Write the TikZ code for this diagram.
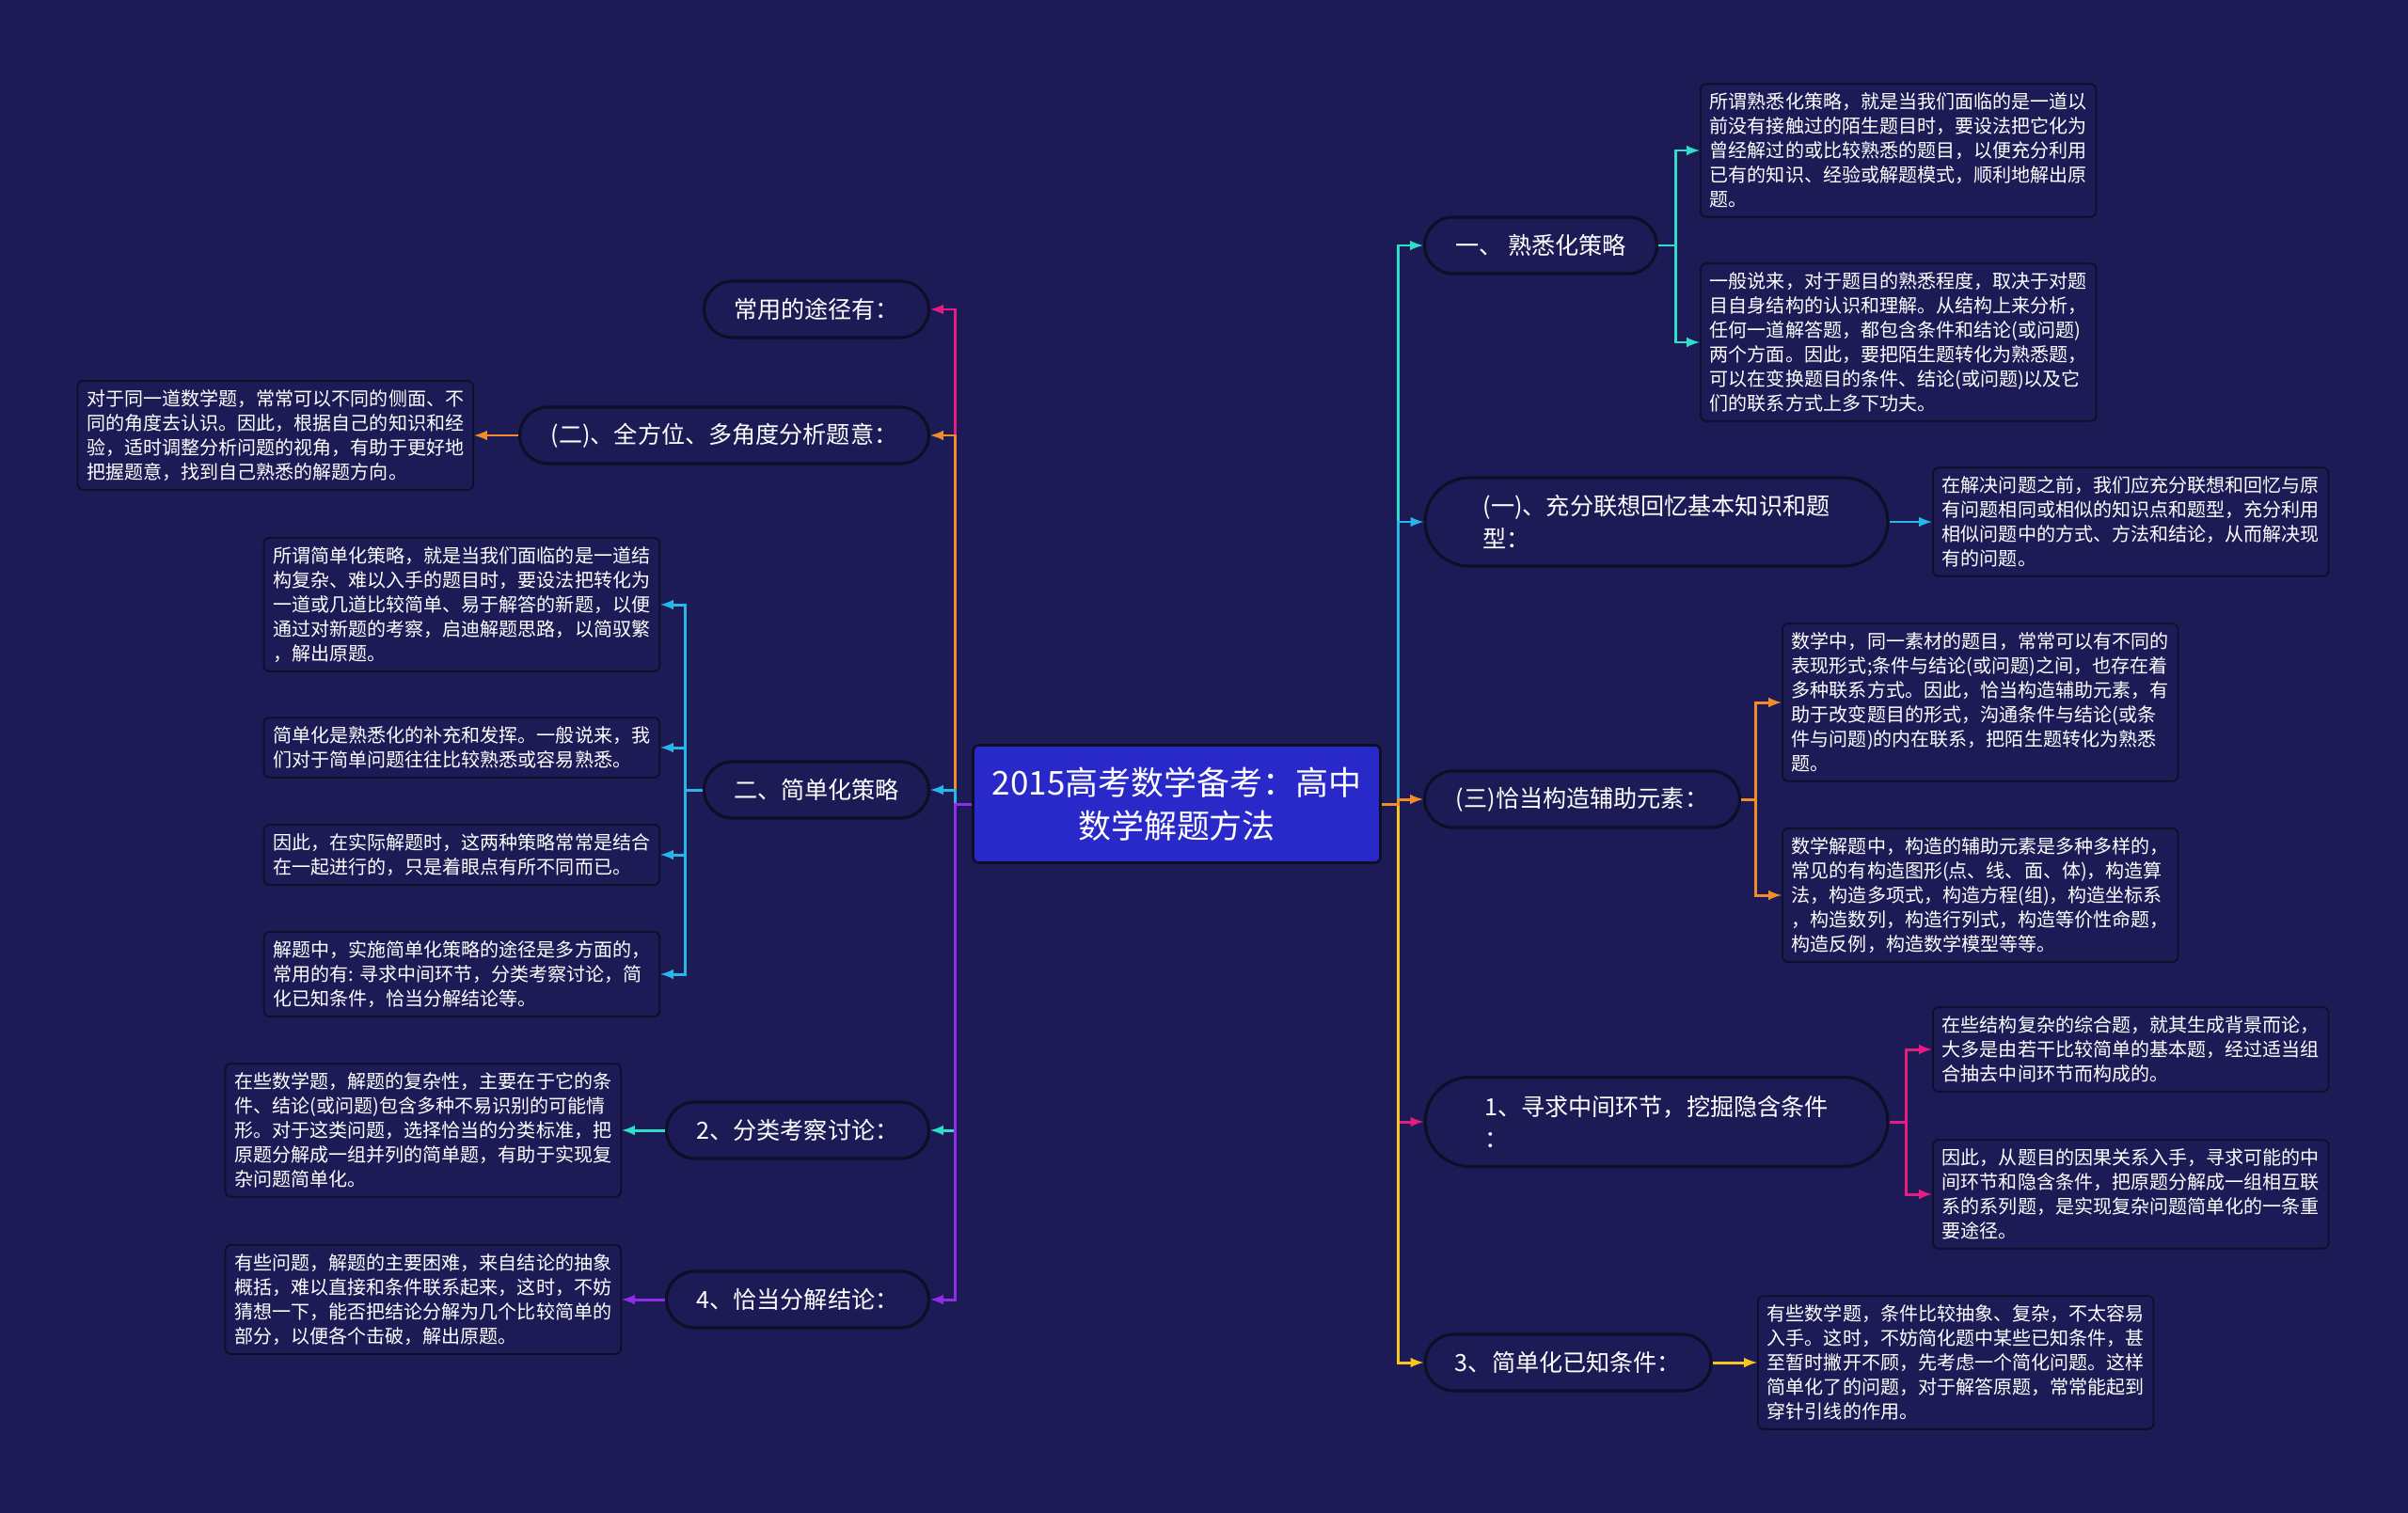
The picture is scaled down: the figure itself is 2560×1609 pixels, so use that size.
\documentclass[tikz,border=0pt]{standalone}
\usepackage{fontspec}
\setmainfont{Noto Sans CJK SC}
\usepackage{tikz}
\usetikzlibrary{arrows}
\usetikzlibrary{shapes}
\usetikzlibrary{backgrounds,positioning}
\usepackage{xcolor}
\definecolor{bg}{RGB}{28,27,86}
\definecolor{edge}{RGB}{14,14,38}
\definecolor{rootc}{RGB}{41,41,201}
\definecolor{cteal}{RGB}{45,222,200}
\definecolor{cblue}{RGB}{40,182,232}
\definecolor{corange}{RGB}{242,140,40}
\definecolor{cpink}{RGB}{230,28,128}
\definecolor{cyellow}{RGB}{246,200,30}
\definecolor{cpurple}{RGB}{142,44,230}

\begin{document}
\begin{tikzpicture}[x=0.02cm,y=-0.02cm]
      \tikzstyle{pill}=[draw=edge,fill=bg,line width=1.8pt,rounded corners=0.6cm,minimum height=1.2cm,text=white,align=left,font=\fontsize{14.3pt}{19.5pt}\selectfont]
      \tikzstyle{leaf}=[draw=edge,fill=bg,line width=1pt,rounded corners=0.12cm,inner xsep=0.2cm,inner ysep=0.19cm,text=white,align=left,font=\fontsize{11.4pt}{14.8pt}\selectfont]
      \tikzstyle{link}=[line width=1.7pt]
      \fill[bg] (0,0) rectangle (2560,1609);
      \useasboundingbox (0,0) rectangle (2560,1609);

      \node[draw=edge,fill=rootc,line width=1.5pt,rounded corners=0.12cm,minimum width=8.66cm,minimum height=2.5cm,text=white,align=center,font=\fontsize{19.9pt}{26pt}\selectfont] (r) at (1251,855) {2015高考数学备考：高中\\数学解题方法};

      \node[pill,minimum width=4.94cm] (r1) at (1638,261) {一、 熟悉化策略};
      \node[pill,minimum width=9.84cm,minimum height=1.88cm,rounded corners=0.94cm] (r2) at (1761,555) {(一)、充分联想回忆基本知识和题\\型：};
      \node[pill,minimum width=6.7cm] (r3) at (1682,850) {(三)恰当构造辅助元素：};
      \node[pill,minimum width=9.84cm,minimum height=1.9cm,rounded corners=0.95cm] (r4) at (1761,1193) {1、寻求中间环节，挖掘隐含条件\\：};
      \node[pill,minimum width=6.08cm] (r5) at (1667,1449) {3、简单化已知条件：};

      \node[pill,minimum width=4.78cm] (l1) at (868,329) {常用的途径有：};
      \node[pill,minimum width=8.7cm] (l2) at (770,463) {(二)、全方位、多角度分析题意：};
      \node[pill,minimum width=4.78cm] (l3) at (868,840) {二、简单化策略};
      \node[pill,minimum width=5.58cm] (l4) at (848,1202) {2、分类考察讨论：};
      \node[pill,minimum width=5.58cm] (l5) at (848,1382) {4、恰当分解结论：};

      \node[leaf,anchor=west] (r1a) at (1807,160) {所谓熟悉化策略，就是当我们面临的是一道以\\前没有接触过的陌生题目时，要设法把它化为\\曾经解过的或比较熟悉的题目，以便充分利用\\已有的知识、经验或解题模式，顺利地解出原\\题。};
      \node[leaf,anchor=west] (r1b) at (1807,364) {一般说来，对于题目的熟悉程度，取决于对题\\目自身结构的认识和理解。从结构上来分析，\\任何一道解答题，都包含条件和结论(或问题)\\两个方面。因此，要把陌生题转化为熟悉题，\\可以在变换题目的条件、结论(或问题)以及它\\们的联系方式上多下功夫。};
      \node[leaf,anchor=west] (r2a) at (2054,555) {在解决问题之前，我们应充分联想和回忆与原\\有问题相同或相似的知识点和题型，充分利用\\相似问题中的方式、方法和结论，从而解决现\\有的问题。};
      \node[leaf,anchor=west] (r3a) at (1894,747) {数学中，同一素材的题目，常常可以有不同的\\表现形式;条件与结论(或问题)之间，也存在着\\多种联系方式。因此，恰当构造辅助元素，有\\助于改变题目的形式，沟通条件与结论(或条\\件与问题)的内在联系，把陌生题转化为熟悉\\题。};
      \node[leaf,anchor=west] (r3b) at (1894,952) {数学解题中，构造的辅助元素是多种多样的，\\常见的有构造图形(点、线、面、体)，构造算\\法，构造多项式，构造方程(组)，构造坐标系\\，构造数列，构造行列式，构造等价性命题，\\构造反例，构造数学模型等等。};
      \node[leaf,anchor=west] (r4a) at (2054,1116) {在些结构复杂的综合题，就其生成背景而论，\\大多是由若干比较简单的基本题，经过适当组\\合抽去中间环节而构成的。};
      \node[leaf,anchor=west] (r4b) at (2054,1270) {因此，从题目的因果关系入手，寻求可能的中\\间环节和隐含条件，把原题分解成一组相互联\\系的系列题，是实现复杂问题简单化的一条重\\要途径。};
      \node[leaf,anchor=west] (r5a) at (1868,1449) {有些数学题，条件比较抽象、复杂，不太容易\\入手。这时，不妨简化题中某些已知条件，甚\\至暂时撇开不顾，先考虑一个简化问题。这样\\简单化了的问题，对于解答原题，常常能起到\\穿针引线的作用。};

      \node[leaf,anchor=east] (l2a) at (504,463) {对于同一道数学题，常常可以不同的侧面、不\\同的角度去认识。因此，根据自己的知识和经\\验，适时调整分析问题的视角，有助于更好地\\把握题意，找到自己熟悉的解题方向。};
      \node[leaf,anchor=east] (l3a) at (702,643) {所谓简单化策略，就是当我们面临的是一道结\\构复杂、难以入手的题目时，要设法把转化为\\一道或几道比较简单、易于解答的新题，以便\\通过对新题的考察，启迪解题思路，以简驭繁\\，解出原题。};
      \node[leaf,anchor=east] (l3b) at (702,795) {简单化是熟悉化的补充和发挥。一般说来，我\\们对于简单问题往往比较熟悉或容易熟悉。};
      \node[leaf,anchor=east] (l3c) at (702,909) {因此，在实际解题时，这两种策略常常是结合\\在一起进行的，只是着眼点有所不同而已。};
      \node[leaf,anchor=east] (l3d) at (702,1036) {解题中，实施简单化策略的途径是多方面的，\\常用的有: 寻求中间环节，分类考察讨论，简\\化已知条件，恰当分解结论等。};
      \node[leaf,anchor=east] (l4a) at (661,1202) {在些数学题，解题的复杂性，主要在于它的条\\件、结论(或问题)包含多种不易识别的可能情\\形。对于这类问题，选择恰当的分类标准，把\\原题分解成一组并列的简单题，有助于实现复\\杂问题简单化。};
      \node[leaf,anchor=east] (l5a) at (661,1382) {有些问题，解题的主要困难，来自结论的抽象\\概括，难以直接和条件联系起来，这时，不妨\\猜想一下，能否把结论分解为几个比较简单的\\部分，以便各个击破，解出原题。};

      \draw[link,cteal,-latex] (r.east) -- ++(18,0) |- (r1.west);
      \draw[link,cblue,-latex] (r.east) -- ++(18,0) |- (r2.west);
      \draw[link,cpink,-latex] (r.east) -- ++(18,0) |- (r4.west);
      \draw[link,cyellow,-latex] (r.east) -- ++(18,0) |- (r5.west);
      \draw[link,corange,-latex] (r.east) -- ++(18,0) |- (r3.west);

      \draw[link,cpink,-latex] (r.west) -- ++(-18,0) |- (l1.east);
      \draw[link,corange,-latex] (r.west) -- ++(-18,0) |- (l2.east);
      \draw[link,cblue,-latex] (r.west) -- ++(-18,0) |- (l3.east);
      \draw[link,cteal,-latex] (r.west) -- ++(-18,0) |- (l4.east);
      \draw[link,cpurple,-latex] (r.west) -- ++(-18,0) |- (l5.east);

      \draw[link,cteal,-latex] (r1.east) -- ++(18,0) |- (r1a.west);
      \draw[link,cteal,-latex] (r1.east) -- ++(18,0) |- (r1b.west);
      \draw[link,cblue,-latex] (r2) -- (r2a);
      \draw[link,corange,-latex] (r3.east) -- ++(15,0) |- (r3a.west);
      \draw[link,corange,-latex] (r3.east) -- ++(15,0) |- (r3b.west);
      \draw[link,cpink,-latex] (r4.east) -- ++(18,0) |- (r4a.west);
      \draw[link,cpink,-latex] (r4.east) -- ++(18,0) |- (r4b.west);
      \draw[link,cyellow,-latex] (r5) -- (r5a);

      \draw[link,corange,-latex] (l2) -- (l2a);
      \draw[link,cblue,-latex] (l3.west) -- ++(-18,0) |- (l3a.east);
      \draw[link,cblue,-latex] (l3.west) -- ++(-18,0) |- (l3b.east);
      \draw[link,cblue,-latex] (l3.west) -- ++(-18,0) |- (l3c.east);
      \draw[link,cblue,-latex] (l3.west) -- ++(-18,0) |- (l3d.east);
      \draw[link,cteal,-latex] (l4) -- (l4a);
      \draw[link,cpurple,-latex] (l5) -- (l5a);
\end{tikzpicture}
\end{document}
